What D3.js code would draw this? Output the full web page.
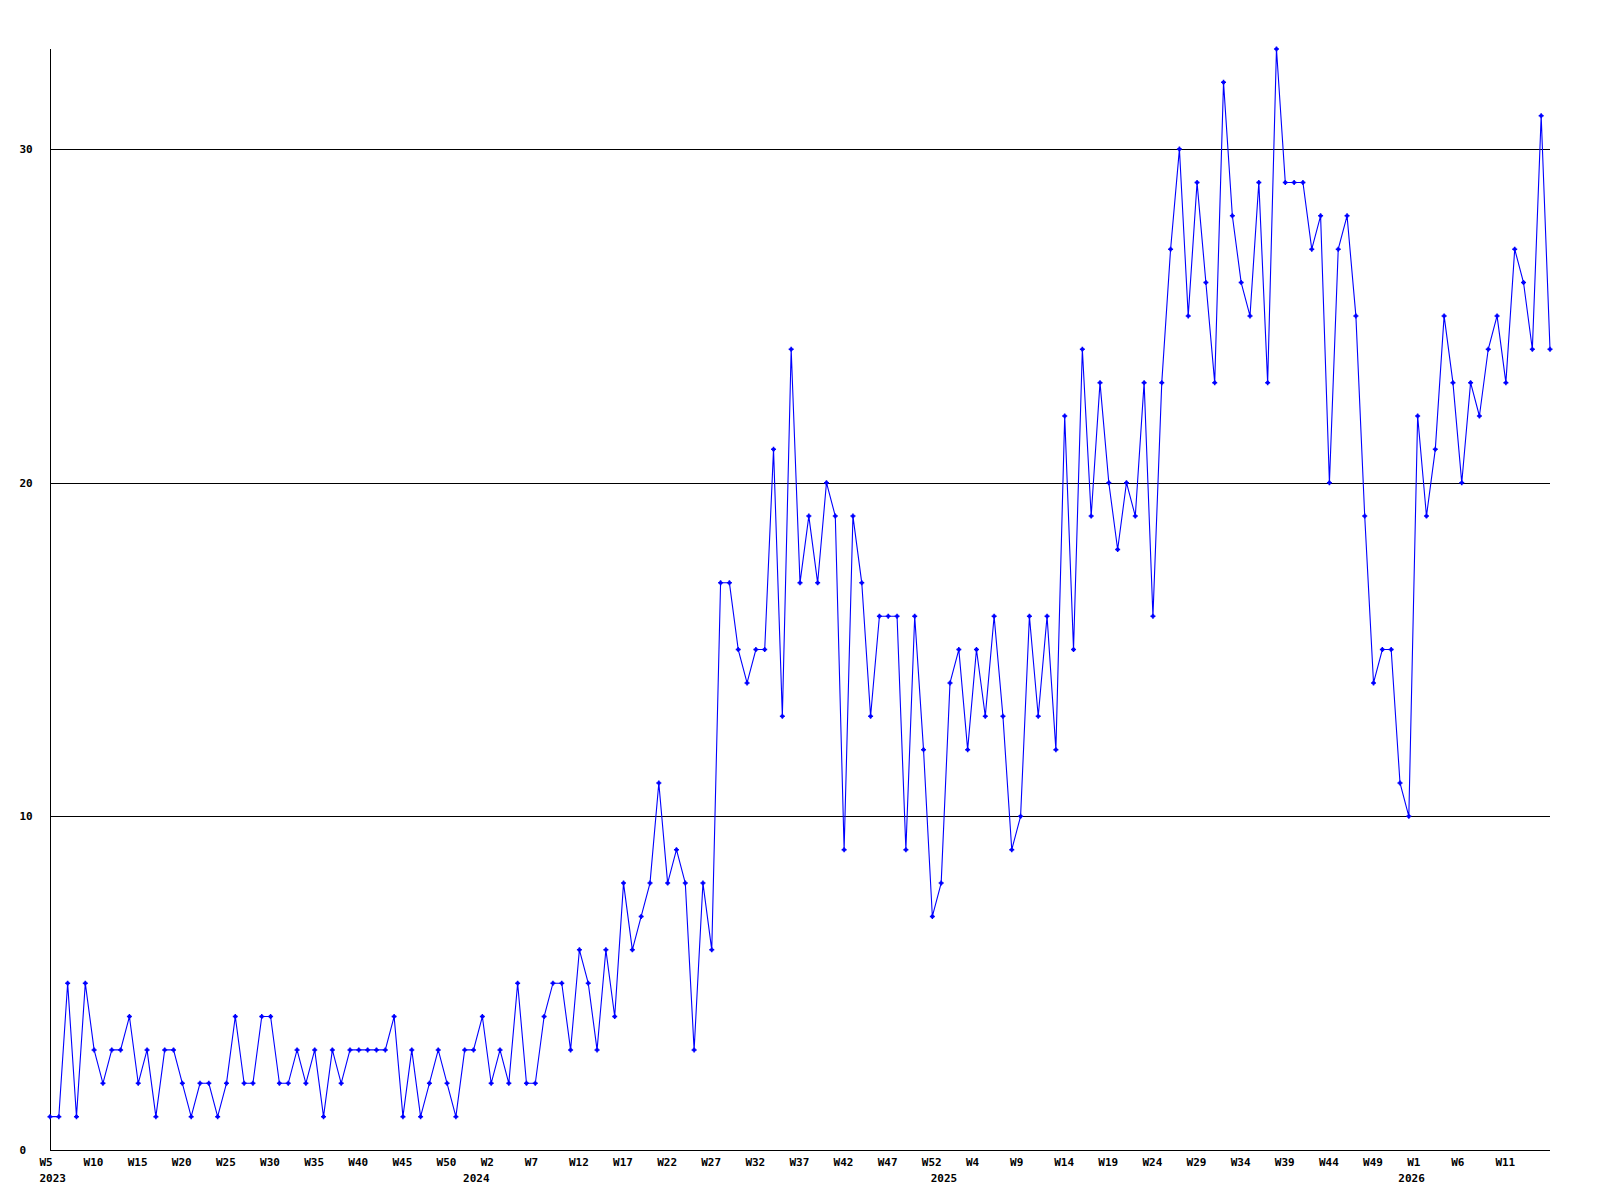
<!DOCTYPE html>
<html>
<head>
<meta charset="utf-8">
<script src="https://cdn.jsdelivr.net/npm/d3@7"></script>
<style>
  html, body { margin: 0; padding: 0; background: #ffffff; }
  svg { display: block; }
  text { font-family: "DejaVu Sans Mono", "Liberation Mono", monospace; font-weight: bold; font-size: 11px; fill: #000; }
</style>
</head>
<body>
<svg id="chart" width="1600" height="1200"></svg>
<script>
// ---- data ----
const values = [
  1,1,5,1,5,3,2,3,3,4,2,3,1,3,3,2,1,2,2,1,2,4,2,2,4,4,2,2,3,
  2,3,1,3,2,3,3,3,3,3,4,1,3,1,2,3,2,1,3,3,4,2,3,2,5,2,2,4,5,5,3,6,5,
  3,6,4,8,6,7,8,11,8,9,8,3,8,6,
  17,17,15,14,15,15,21,13,24,17,19,17,20,19,9,19,17,13,16,16,16,9,16,12,7,8,14,
  15,12,15,13,16,13,9,10,16,13,16,12,22,15,24,19,23,20,18,20,
  19,23,16,23,27,30,25,29,26,23,32,28,26,25,29,23,33,29,29,29,27,28,
  20,27,28,25,19,14,15,15,11,10,22,19,21,25,23,20,23,22,24,25,23,27,26,24,31,24
];
const weekTickLabels = [
  "W5","W10","W15","W20","W25","W30","W35","W40","W45","W50",
  "W2","W7","W12","W17","W22","W27","W32","W37","W42","W47","W52",
  "W4","W9","W14","W19","W24","W29","W34","W39","W44","W49",
  "W1","W6","W11"
];
const weekTickEvery = 5;
const yearLabels = ["2023","2024","2025","2026"];
const yearLabelIndex = [0, 48, 101, 154];
const yTicks = [0, 10, 20, 30];
const yMax = 33;

// ---- drawing ----
const svg = d3.select("#chart");
const x = d3.scaleLinear().domain([0, values.length - 1]).range([50, 1550]);
const y = d3.scaleLinear().domain([0, yMax]).range([1150, 49]);

svg.append("rect").attr("width", 1600).attr("height", 1200).attr("fill", "#fff");

// horizontal grid lines
svg.append("g").selectAll("line")
  .data(yTicks.filter(d => d > 0))
  .join("line")
  .attr("x1", x(0)).attr("x2", x(values.length - 1))
  .attr("y1", d => Math.round(y(d)) + 0.5).attr("y2", d => Math.round(y(d)) + 0.5)
  .attr("stroke", "#000").attr("stroke-width", 1)
  .attr("shape-rendering", "crispEdges");

// axes lines
svg.append("line")
  .attr("x1", Math.round(x(0)) + 0.5).attr("x2", Math.round(x(0)) + 0.5)
  .attr("y1", y(yMax)).attr("y2", Math.round(y(0)) + 0.5)
  .attr("stroke", "#000").attr("shape-rendering", "crispEdges");
svg.append("line")
  .attr("x1", x(0)).attr("x2", x(values.length - 1))
  .attr("y1", Math.round(y(0)) + 0.5).attr("y2", Math.round(y(0)) + 0.5)
  .attr("stroke", "#000").attr("shape-rendering", "crispEdges");

// y labels
svg.append("g").selectAll("text")
  .data(yTicks)
  .join("text")
  .attr("x", 19.5)
  .attr("y", d => y(d) + 4)
  .text(d => d);

// x week labels
svg.append("g").selectAll("text")
  .data(weekTickLabels)
  .join("text")
  .attr("x", (d, i) => x(i * weekTickEvery) - 10.5)
  .attr("y", 1166)
  .text(d => d);

// year labels
svg.append("g").selectAll("text")
  .data(yearLabels)
  .join("text")
  .attr("x", (d, i) => x(yearLabelIndex[i]) - 10.5)
  .attr("y", 1181.5)
  .text(d => d);

// line
const line = d3.line().x((d, i) => x(i)).y(d => y(d));
svg.append("path")
  .datum(values)
  .attr("d", line)
  .attr("fill", "none")
  .attr("stroke", "#0000ff")
  .attr("stroke-width", 1.1);

// markers
const mk = svg.append("g");
mk.selectAll("path")
  .data(values)
  .join("path")
  .attr("transform", (d, i) => `translate(${x(i)},${y(d)})`)
  .attr("d", "M-2.5,0H2.5M0,-2.5V2.5")
  .attr("stroke", "#0000ff")
  .attr("stroke-width", 1.5)
  .attr("fill", "none");
mk.selectAll("rect")
  .data(values)
  .join("rect")
  .attr("x", (d, i) => x(i) - 1.5)
  .attr("y", d => y(d) - 1.5)
  .attr("width", 3).attr("height", 3)
  .attr("fill", "#0000ff");
</script>
</body>
</html>
